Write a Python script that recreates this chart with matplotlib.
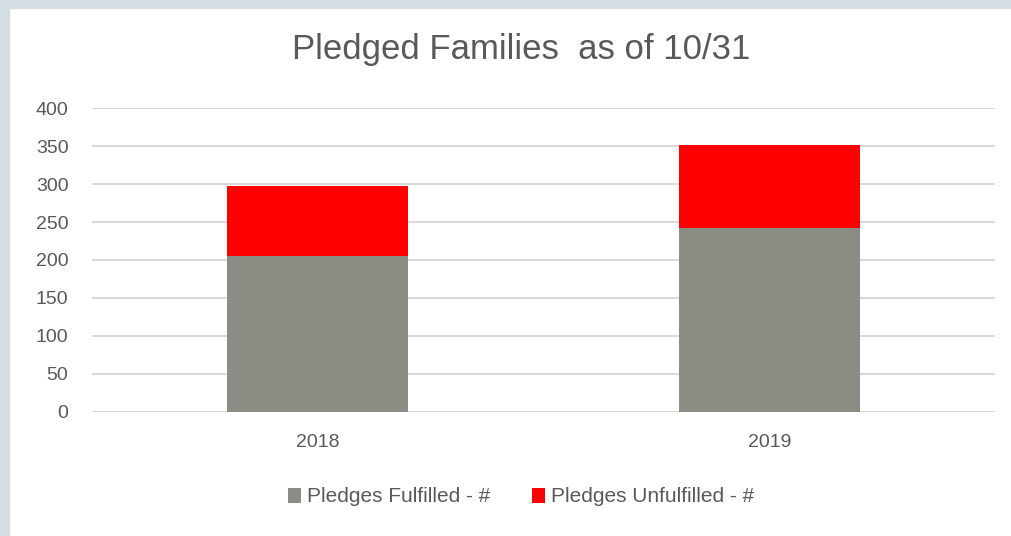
import numpy as np
import matplotlib.pyplot as plt
from matplotlib.patches import Rectangle

#- Data:
years = ['2018', '2019']
fulfilled = np.array([205, 242])
unfulfilled = np.array([93, 110])

grey = '#8c8c85'
red = '#ff0000'
text_col = '#595959'
plt.rcParams['font.family'] = ['Liberation Sans Narrow', 'Liberation Sans', 'DejaVu Sans']

fig = plt.figure(figsize=(10.12, 5.36), dpi=100)

#- Screenshot border strips:
fig.patches.append(Rectangle((0, 0), 9 / 1012, 1, transform=fig.transFigure,
                             color='#d3dde3', zorder=0))
fig.patches.append(Rectangle((0, 1 - 8 / 536), 1, 8 / 536, transform=fig.transFigure,
                             color='#d3dde3', zorder=0))

ax = fig.add_axes([92 / 1012, 1 - 411.5 / 536, 903 / 1012, 303 / 536])
x = np.arange(len(years))
ax.bar(x, fulfilled, width=0.4, color=grey, label='Pledges Fulfilled - #', zorder=3)
ax.bar(x, unfulfilled, width=0.4, bottom=fulfilled, color=red,
       label='Pledges Unfulfilled - #', zorder=3)

ax.set_xlim(-0.5, 1.5)
ax.set_ylim(0, 400)
ax.set_yticks(np.arange(0, 401, 50))
ax.set_xticks(x)
ax.set_xticklabels(years)
ax.yaxis.grid(True, color='#d9d9d9', linewidth=1.5, zorder=0)
ax.tick_params(length=0, labelsize=14, colors=text_col)
ax.tick_params(axis='x', pad=16)
ax.tick_params(axis='y', pad=17)
for s in ax.spines.values():
    s.set_visible(False)

fig.text(0.515, 1 - 50 / 536, 'Pledged Families  as of 10/31', ha='center', va='center',
         fontsize=25, color=text_col)

fig.legend(loc='center', bbox_to_anchor=(0.515, 1 - 497 / 536), ncol=2, frameon=False,
           fontsize=15, labelcolor=text_col, handlelength=0.6, handleheight=0.7,
           handletextpad=0.3, columnspacing=2.0)

fig.savefig('out.png', dpi=100)
